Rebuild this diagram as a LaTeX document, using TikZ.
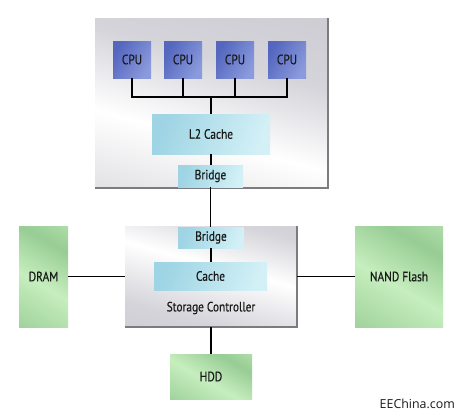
\documentclass[tikz,border=0pt]{standalone}
\usepackage{fontspec}
\setmainfont{PT Sans}[FakeStretch=0.84,FakeBold=0.5]
\newfontfamily\markfont{Open Sans}
\definecolor{boxgray}{HTML}{D4D4DA}
\definecolor{boxgrayd}{HTML}{C6C6CC}
\definecolor{edgegray}{HTML}{7C7C80}
\definecolor{cpua}{HTML}{5466BE}
\definecolor{cpub}{HTML}{8A9ADC}
\definecolor{cyana}{HTML}{9ED4E4}
\definecolor{cyanb}{HTML}{D2F0F6}
\definecolor{greena}{HTML}{8CC48A}
\definecolor{greenb}{HTML}{C6EEBE}
\definecolor{txt}{HTML}{1A1A1A}
\pgfdeclarehorizontalshading{grayband}{100bp}{color(0bp)=(boxgrayd); color(40bp)=(white); color(62bp)=(boxgray); color(100bp)=(boxgrayd)}
\pgfdeclarehorizontalshading{graybandb}{100bp}{color(0bp)=(boxgrayd); color(30bp)=(boxgray); color(55bp)=(white); color(75bp)=(boxgray); color(100bp)=(boxgrayd)}
\pgfdeclarehorizontalshading{greenband}{100bp}{color(0bp)=(greena); color(45bp)=(greenb); color(70bp)=(greena!80!greenb); color(100bp)=(greenb)}
\tikzset{
  lbl/.style={text=txt, font=\fontsize{13.5}{15}\selectfont, inner sep=0pt},
  graybox/.style={lbl, shading=grayband, shading angle=75, draw=none},
  grayboxb/.style={lbl, shading=graybandb, shading angle=75, draw=none},
  cpubox/.style={lbl, minimum width=38pt, minimum height=37pt, left color=cpua, right color=cpub, shading angle=60},
  cyanbox/.style={lbl, left color=cyana, right color=cyanb, shading angle=70},
  greenbox/.style={lbl, shading=greenband, shading angle=60},
  wire/.style={line width=1.2pt, black},
  shadowedge/.style={line width=1.6pt, edgegray}
}
\begin{document}
\begin{tikzpicture}[x=1pt,y=-1pt]
\useasboundingbox (0,0) rectangle (462,418);
\fill[white] (0,0) rectangle (462,418);
% top box
\node[graybox, minimum width=233pt, minimum height=170pt] (top) at (211.5,103) {};
\draw[shadowedge] (top.north east) -- (top.south east) -- (top.south west);
\node[cpubox] (cpu1) at (132,59.5) {CPU};
\node[cpubox] (cpu2) at (183,59.5) {CPU};
\node[cpubox] (cpu3) at (235,59.5) {CPU};
\node[cpubox] (cpu4) at (287,59.5) {CPU};
\node[cyanbox, minimum width=118pt, minimum height=40pt] (l2) at (211,134) {L2 Cache};
\node[cyanbox, minimum width=65pt, minimum height=22pt] (br1) at (210.5,176) {Bridge};
\coordinate (bus) at (211,97);
% storage controller
\node[grayboxb, minimum width=172pt, minimum height=101pt] (sc) at (211,276.5) {};
\draw[shadowedge] (sc.north east) -- (sc.south east) -- (sc.south west);
\node[cyanbox, minimum width=66pt, minimum height=21pt] (br2) at (211,237.5) {Bridge};
\node[cyanbox, minimum width=113pt, minimum height=28pt] (cache) at (210.5,276) {Cache};
\node[lbl] (sclabel) at (211,308) {Storage Controller};
% memories
\node[greenbox, minimum width=49pt, minimum height=101pt] (dram) at (43.5,276.5) {DRAM};
\node[greenbox, minimum width=88pt, minimum height=101pt] (nand) at (399,276.5) {NAND Flash};
\node[greenbox, minimum width=82pt, minimum height=45pt] (hdd) at (211,376.5) {HDD};
\node[anchor=east, inner sep=0pt, text=txt, font=\markfont\fontsize{12.4}{14}\selectfont] (mark) at (455,404) {EEChina.com};
% wires
\draw[wire] (cpu1.south) |- (bus);
\draw[wire] (cpu4.south) |- (bus);
\draw[wire] (cpu2.south) -- (cpu2.south |- bus);
\draw[wire] (cpu3.south) -- (cpu3.south |- bus);
\draw[wire] (bus) -- (l2.north);
\draw[wire] (l2.south) -- (l2.south |- br1.north);
\draw[wire] (br1.south) -- (br1.south |- br2.north);
\draw[wire] (br2.south) -- (br2.south |- cache.north);
\draw[wire] (dram.east) -- (dram.east -| sc.west);
\draw[wire] (sc.east) -- (sc.east -| nand.west);
\draw[wire] (sc.south) -- (hdd.north);
\end{tikzpicture}
\end{document}
